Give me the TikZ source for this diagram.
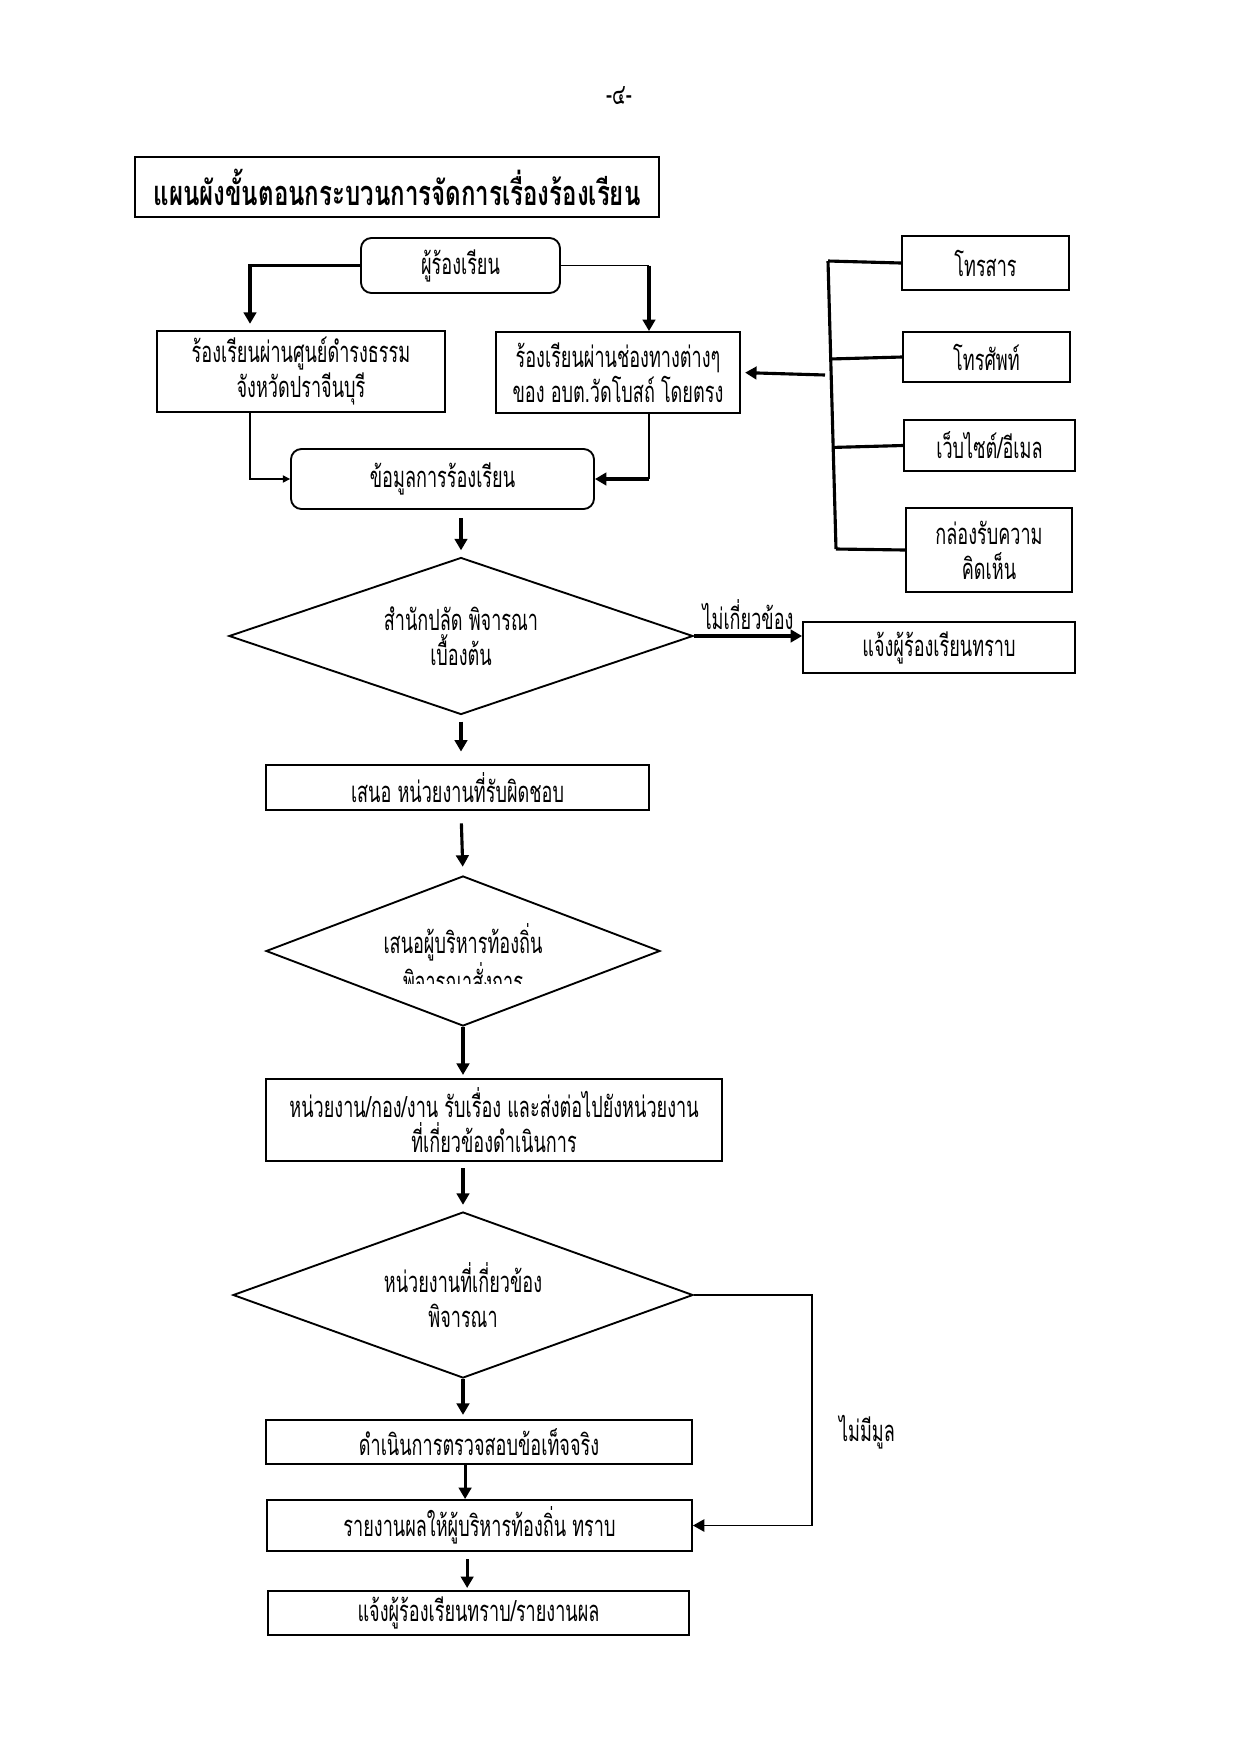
\documentclass[tikz,border=0pt]{standalone}
\usepackage{fontspec}
\newfontfamily\thai[Script=Thai,FakeStretch=0.62]{Loma}
\newfontfamily\thaititle[Script=Thai,FakeStretch=0.7]{Loma}
\usetikzlibrary{shapes.geometric,arrows.meta,calc}
\begin{document}
\begin{tikzpicture}[x=0.48pt,y=-0.48pt,
  every node/.style={font=\thai\fontsize{14}{16.8}\selectfont},
  bx/.style 2 args={draw,line width=0.9pt,minimum width=#1*0.48pt,minimum height=#2*0.48pt,inner sep=0pt,align=center},
  rbx/.style 2 args={bx={#1}{#2},rounded corners=5pt},
  dm/.style n args={3}{draw,line width=0.9pt,diamond,shape aspect=#3,minimum width=#1*0.48pt,minimum height=#2*0.48pt,inner sep=0pt,align=center},
  thk/.style={line width=1.5pt},
  thn/.style={line width=0.6pt},
  arr/.style={thk,-{Triangle[width=6pt,length=5.5pt]}},
  tarr/.style={thn,-{Triangle[width=6pt,length=5.5pt]}},
  sarr/.style={thn,-{Triangle[width=3.5pt,length=3.5pt]}}]
\useasboundingbox (0,0) rectangle (1241,1754);
\fill[white] (0,0) rectangle (1241,1754);

\node (pg) at (619,96) {-๔-};
\node[bx={524}{60},line width=1.2pt,font=\thaititle\bfseries\fontsize{16.5}{18}\selectfont] (title) at (397,187) {แผนผังขั้นตอนกระบวนการจัดการเรื่องร้องเรียน};

\node[rbx={199}{55}] (comp) at (460.5,265.5) {ผู้ร้องเรียน};
\node[bx={288}{81}] (left) at (301,371.5) {ร้องเรียนผ่านศูนย์ดำรงธรรม\\จังหวัดปราจีนบุรี};
\node[bx={244}{81}] (right) at (618,372.5) {ร้องเรียนผ่านช่องทางต่างๆ\\ของ อบต.วัดโบสถ์ โดยตรง};
\node[rbx={303}{60}] (data) at (442.5,479) {ข้อมูลการร้องเรียน};

\node[bx={167}{54}] (fax) at (985.5,263) {โทรสาร};
\node[bx={167}{50}] (phone) at (986.5,357) {โทรศัพท์};
\node[bx={171}{51}] (web) at (989.5,445.5) {เว็บไซต์/อีเมล};
\node[bx={166}{84}] (boxc) at (989,550) {กล่องรับความ\\คิดเห็น};

\node[dm={464}{157}{2.96}] (d1) at (461,636) {สำนักปลัด พิจารณา\\เบื้องต้น};
\node[bx={272}{51}] (no1) at (939,647.5) {แจ้งผู้ร้องเรียนทราบ};
\node[bx={383}{45}] (propose) at (457.5,787.5) {เสนอ หน่วยงานที่รับผิดชอบ};
\node[dm={394}{150}{2.63}] (d2) at (463,951) {};
\begin{scope}
\clip (270,900) rectangle (655,983);
\node[align=center] (d2t) at (463,958) {เสนอผู้บริหารท้องถิ่น\\พิจารณาสั่งการ};
\end{scope}
\node[bx={456}{82}] (unit) at (494,1120) {หน่วยงาน/กอง/งาน รับเรื่อง และส่งต่อไปยังหน่วยงาน\\ที่เกี่ยวข้องดำเนินการ};
\node[dm={460}{166}{2.77}] (d3) at (463,1295) {หน่วยงานที่เกี่ยวข้อง\\พิจารณา};
\node[bx={426}{44}] (check) at (479,1442) {ดำเนินการตรวจสอบข้อเท็จจริง};
\node[bx={425}{51}] (report) at (479.5,1525.5) {รายงานผลให้ผู้บริหารท้องถิ่น ทราบ};
\node[bx={421}{44}] (final) at (478.5,1613) {แจ้งผู้ร้องเรียนทราบ/รายงานผล};

% top connectors
\draw[arr,shorten >=3pt] (comp.west) -| ([xshift=-51*0.48pt]left.north);
\coordinate (cr) at ([xshift=31*0.48pt]right.north |- comp.east);
\draw[thn] (comp.east) -- (cr);
\draw[arr] (cr) -- ([xshift=31*0.48pt]right.north);
\draw[sarr] ([xshift=-51*0.48pt]left.south) |- (data.west);
\coordinate (rd) at ([xshift=31*0.48pt]right.south |- data.east);
\draw[thn] ([xshift=31*0.48pt]right.south) -- (rd);
\draw[arr] (rd) -- (data.east);

% channel bracket
\coordinate (bt) at (828,261);
\coordinate (bb) at (836,549);
\coordinate (ba) at (825,375);
\draw[thk] (bt) -- (bb);
\draw[thk] (bt) -- (fax.west);
\draw[thk] ($(bt)!(phone.west)!(bb)$) -- (phone.west);
\draw[thk] ($(bt)!(web.west)!(bb)$) -- (web.west);
\draw[thk] (bb) -- (boxc.west);
\draw[arr,shorten >=2pt] (ba) -- (right.east);

% main flow
\draw[arr,shorten <=4pt,shorten >=3pt] (data.south -| d1.north) -- (d1.north);
\draw[arr,shorten <=3pt,shorten >=6pt] (d1.south) -- (d1.south |- propose.north);
\draw[arr,shorten <=6pt,shorten >=4pt] (d1.south |- propose.south) -- (d2.north);
\draw[arr,shorten >=1.5pt] (d2.south) -- (d2.south |- unit.north);
\draw[arr,shorten <=3pt,shorten >=3pt] (d3.north |- unit.south) -- (d3.north);
\draw[arr,shorten >=2pt] (d3.south) -- (d3.south |- check.north);
\draw[arr] ([xshift=1pt]d3.south |- check.south) -- ([xshift=1pt]d3.south |- report.north);
\draw[arr,shorten <=3.5pt,shorten >=1pt] ([xshift=2pt]d3.south |- report.south) -- ([xshift=2pt]d3.south |- final.north);

% side branches
\draw[arr] (d1.east) -- (d1.east -| no1.west) node[midway,above=-1pt] (lb1) {ไม่เกี่ยวข้อง};
\draw[tarr] (d3.east) -- ++(118,0) |- (report.east);
\node (lb2) at (867,1432) {ไม่มีมูล};
\end{tikzpicture}
\end{document}
